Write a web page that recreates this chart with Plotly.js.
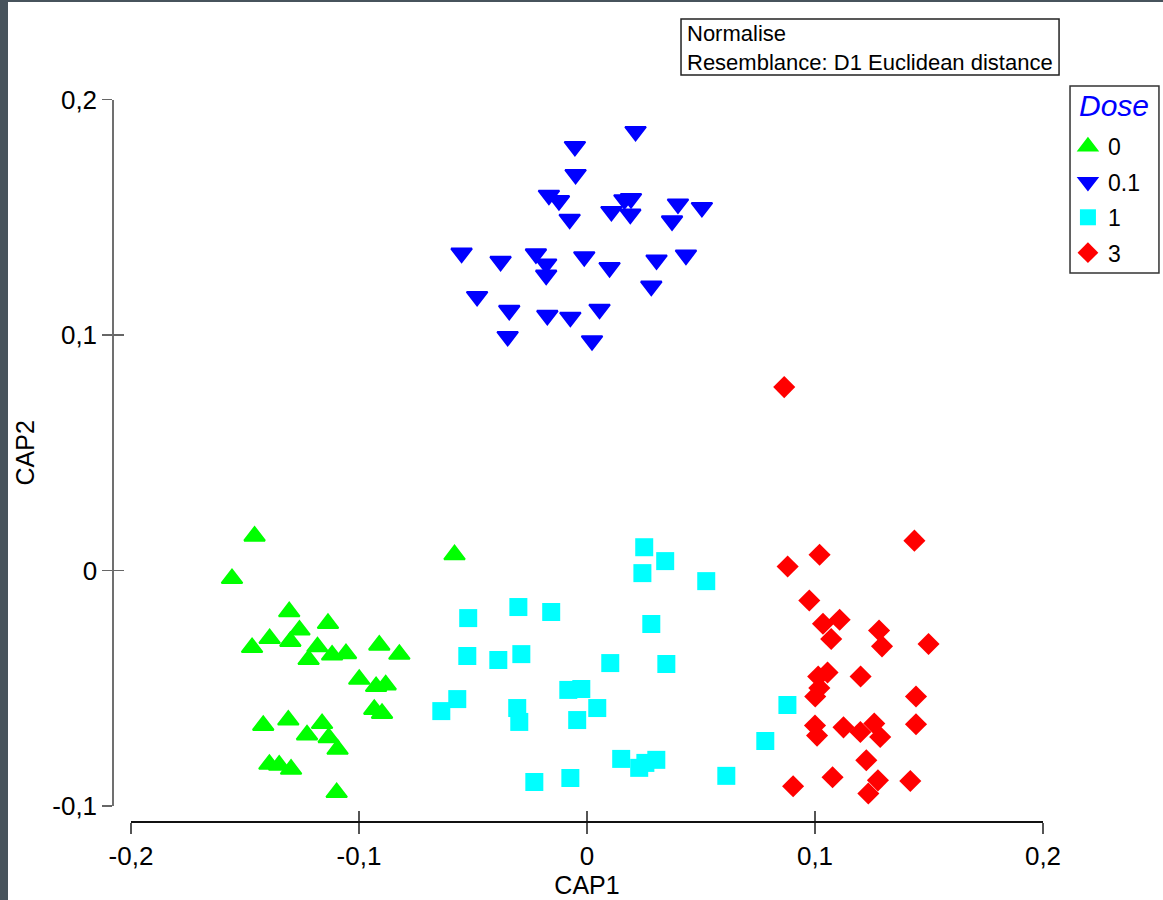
<!DOCTYPE html>
<html><head><meta charset="utf-8">
<script src="https://cdn.plot.ly/plotly-3.0.1.min.js"></script>
<style>
html,body{margin:0;padding:0;background:#47535c;width:1163px;height:900px;overflow:hidden;}
#chart{position:absolute;left:8px;top:2px;width:1155px;height:898px;background:#fff;}
</style></head><body><div id="chart"></div>
<script>
// Groups (Dose)
const legendTitle = 'Dose';
const doseLabels = ['0', '0.1', '1', '3'];

// Dose 0
const dose0X = [-0.1458,-0.1557,-0.1306,-0.1136,-0.1261,-0.1392,-0.1301,-0.1469,-0.1182,-0.1221,
  -0.1118,-0.1057,-0.0911,-0.0823,-0.0999,-0.0925,-0.0883,-0.0933,-0.0899,-0.1420,
  -0.1310,-0.1162,-0.1228,-0.1133,-0.1094,-0.1393,-0.1350,-0.1298,-0.1098,-0.0581];
const dose0Y = [0.0146,-0.0034,-0.0175,-0.0225,-0.0253,-0.0289,-0.0301,-0.0327,-0.0324,-0.0378,
  -0.0359,-0.0353,-0.0317,-0.0356,-0.0462,-0.0493,-0.0486,-0.0590,-0.0607,-0.0658,
  -0.0635,-0.0650,-0.0698,-0.0710,-0.0759,-0.0823,-0.0827,-0.0844,-0.0943,0.0067];

// Dose 0.1
const dose01X = [0.0213,-0.0053,-0.0050,-0.0167,-0.0123,-0.0076,0.0164,0.0193,0.0107,0.0190,
  0.0399,0.0504,0.0373,-0.0550,-0.0379,-0.0224,-0.0179,-0.0179,-0.0012,0.0099,
  0.0305,0.0434,0.0282,-0.0482,-0.0341,-0.0174,-0.0073,0.0055,-0.0348,0.0022];
const dose01Y = [0.1865,0.1801,0.1682,0.1594,0.1571,0.1492,0.1575,0.1580,0.1525,0.1514,
  0.1557,0.1542,0.1485,0.1348,0.1313,0.1345,0.1302,0.1255,0.1333,0.1287,
  0.1319,0.1340,0.1208,0.1164,0.1105,0.1084,0.1076,0.1110,0.0994,0.0976];

// Dose 1
const dose1X = [0.0251,0.0343,0.0243,0.0523,-0.0521,-0.0301,-0.0157,0.0282,-0.0525,-0.0389,
  -0.0288,0.0102,0.0348,-0.0569,-0.0639,-0.0306,-0.0297,-0.0082,-0.0025,0.0045,
  -0.0043,0.0150,0.0229,0.0256,0.0304,0.0611,-0.0231,-0.0073,0.0879,0.0782];
const dose1Y = [0.0099,0.0040,-0.0011,-0.0045,-0.0202,-0.0155,-0.0176,-0.0227,-0.0363,-0.0380,
  -0.0355,-0.0393,-0.0397,-0.0546,-0.0597,-0.0584,-0.0643,-0.0507,-0.0503,-0.0584,
  -0.0635,-0.0800,-0.0838,-0.0817,-0.0804,-0.0872,-0.0898,-0.0881,-0.0571,-0.0724];

// Dose 3
const dose3X = [0.0865,0.1436,0.1020,0.0880,0.0975,0.1035,0.1108,0.1071,0.1281,0.1294,
  0.1498,0.1055,0.1014,0.1200,0.1019,0.1001,0.1443,0.1000,0.1009,0.1125,
  0.1199,0.1260,0.1286,0.1443,0.1225,0.1077,0.0904,0.1276,0.1234,0.1418];
const dose3Y = [0.0779,0.0127,0.0067,0.0017,-0.0127,-0.0226,-0.0209,-0.0291,-0.0255,-0.0322,
  -0.0312,-0.0433,-0.0450,-0.0450,-0.0499,-0.0535,-0.0535,-0.0658,-0.0701,-0.0666,
  -0.0686,-0.0650,-0.0707,-0.0653,-0.0806,-0.0878,-0.0916,-0.0891,-0.0947,-0.0894];

// Tick labels
const xTickVals = [-0.2, -0.1, 0, 0.1, 0.2];
const xTickText = ['-0,2', '-0,1', '0', '0,1', '0,2'];
const yTickVals = [-0.1, 0, 0.1, 0.2];
const yTickText = ['-0,1', '0', '0,1', '0,2'];

// Info box lines
const infoLines = ['Normalise', 'Resemblance: D1 Euclidean distance'];

const FONT = '"Liberation Sans", Arial, sans-serif';

function grp(x, y, name, symbol, color, size, lw, g) {
  return {
    type: 'scatter', mode: 'markers', x: x, y: y, name: name,
    legendgroup: g, cliponaxis: false, hoverinfo: 'x+y+name',
    marker: { symbol: symbol, color: color, size: size,
      line: { color: color, width: lw } }
  };
}

const traces = [
  grp(dose0X, dose0Y, doseLabels[0], 'triangle-up', '#00ff00', 18, 2, 'a'),
  grp(dose01X, dose01Y, doseLabels[1], 'triangle-down', '#0000ff', 18, 2, 'b'),
  grp(dose1X, dose1Y, doseLabels[2], 'square', '#00ffff', 18, 0, 'c'),
  grp(dose3X, dose3Y, doseLabels[3], 'diamond', '#ff0000', 17, 0, 'd'),
  // helper trace for inner halves of tick marks
  { type: 'scatter', mode: 'markers', x: [], y: [], xaxis: 'x2', yaxis: 'y2',
    showlegend: false, hoverinfo: 'skip' }
];

const xDom = [0.10649, 0.89610];
const yDom = [0.10468, 0.89131];
const xPos = 0.08797;
const yPos = 0.09030;

const layout = {
  width: 1155, height: 898,
  margin: { l: 0, r: 0, t: 0, b: 0 },
  paper_bgcolor: '#ffffff', plot_bgcolor: 'rgba(0,0,0,0)',
  font: { family: FONT, color: '#000' },
  showlegend: true,
  xaxis: {
    domain: xDom, range: [-0.2, 0.2], anchor: 'free', position: xPos,
    tickmode: 'array', tickvals: xTickVals, ticktext: xTickText,
    ticks: 'outside', ticklen: 11, tickwidth: 1.5, tickcolor: '#555',
    showline: true, linecolor: '#111', linewidth: 1.5,
    showgrid: false, zeroline: false, automargin: false,
    tickfont: { family: FONT, size: 26, color: '#000' },
    title: { text: 'CAP1', font: { family: FONT, size: 25, color: '#000' }, standoff: 1 }
  },
  yaxis: {
    domain: yDom, range: [-0.1, 0.2], anchor: 'free', position: yPos,
    tickmode: 'array', tickvals: yTickVals, ticktext: yTickText,
    ticks: 'outside', ticklen: 10, tickwidth: 1.5, tickcolor: '#666',
    showline: true, linecolor: '#707070', linewidth: 1.5,
    showgrid: false, zeroline: false, automargin: false,
    tickfont: { family: FONT, size: 26, color: '#000' },
    title: { text: 'CAP2', font: { family: FONT, size: 25, color: '#000' }, standoff: 9 }
  },
  xaxis2: {
    domain: xDom, range: [-0.2, 0.2], overlaying: 'x', anchor: 'free', position: xPos,
    tickmode: 'array', tickvals: xTickVals, showticklabels: false,
    ticks: 'inside', ticklen: 10, tickwidth: 1.5, tickcolor: '#555',
    showline: false, showgrid: false, zeroline: false, automargin: false
  },
  yaxis2: {
    domain: yDom, range: [-0.1, 0.2], overlaying: 'y', anchor: 'free', position: yPos,
    tickmode: 'array', tickvals: yTickVals, showticklabels: false,
    ticks: 'inside', ticklen: 11, tickwidth: 1.5, tickcolor: '#666',
    showline: false, showgrid: false, zeroline: false, automargin: false
  },
  legend: {
    x: 0.9177, y: 0.8630, xanchor: 'left', yanchor: 'top',
    bgcolor: 'rgba(0,0,0,0)', borderwidth: 0,
    font: { family: FONT, size: 23, color: '#000' },
    tracegroupgap: 2.5, itemsizing: 'trace', itemwidth: 30
  },
  shapes: [
    { type: 'rect', xref: 'paper', yref: 'paper', x0: 0.5827, x1: 0.9100, y0: 0.9187, y1: 0.9811,
      line: { color: '#222', width: 1.5 }, fillcolor: 'rgba(0,0,0,0)' },
    { type: 'rect', xref: 'paper', yref: 'paper', x0: 0.9195, x1: 0.9965, y0: 0.6982, y1: 0.9065,
      line: { color: '#333', width: 1.5 }, fillcolor: 'rgba(0,0,0,0)' }
  ],
  annotations: [
    { xref: 'paper', yref: 'paper', x: 0.5861, y: 0.9644, xanchor: 'left', yanchor: 'middle',
      text: infoLines[0], showarrow: false, font: { family: FONT, size: 22, color: '#000' } },
    { xref: 'paper', yref: 'paper', x: 0.5861, y: 0.9321, xanchor: 'left', yanchor: 'middle',
      text: infoLines[1], showarrow: false, font: { family: FONT, size: 22, color: '#000' } },
    { xref: 'paper', yref: 'paper', x: 0.9576, y: 0.8853, xanchor: 'center', yanchor: 'middle',
      text: legendTitle, showarrow: false, font: { family: FONT, size: 30, color: '#0000ff', style: 'italic' } }
  ]
};

Plotly.newPlot('chart', traces, layout, { displayModeBar: false, staticPlot: true });
</script></body></html>
